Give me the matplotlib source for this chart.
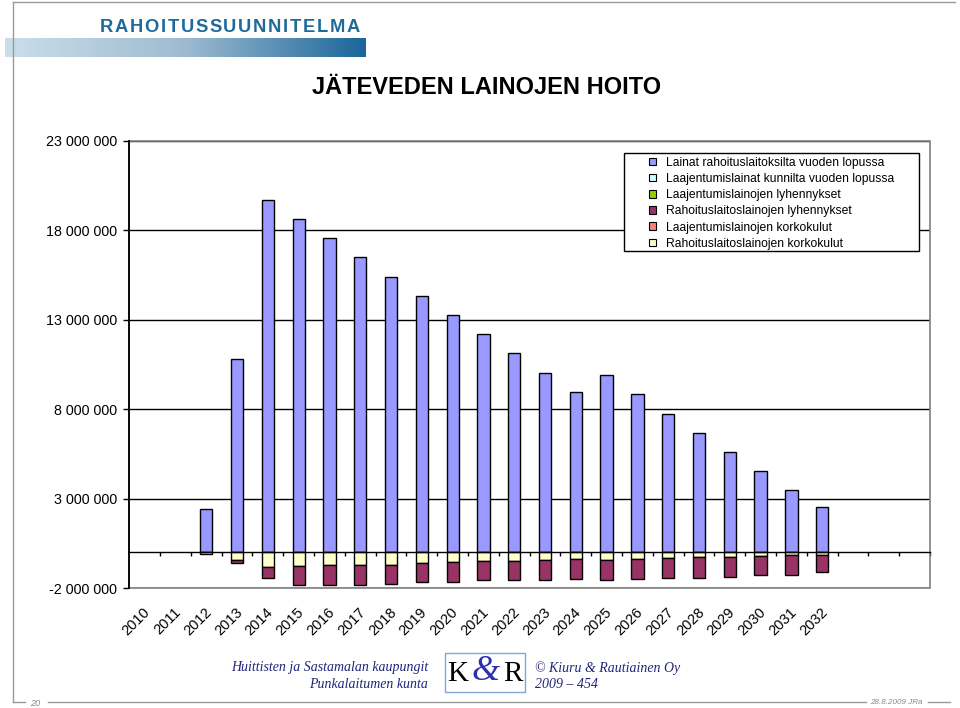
import numpy as np
import matplotlib
matplotlib.use('Agg')
import matplotlib.pyplot as plt
from matplotlib.patches import Rectangle, Patch
from matplotlib.lines import Line2D
from matplotlib.colors import LinearSegmentedColormap
from matplotlib.transforms import blended_transform_factory

plt.rcParams['font.family'] = ['Liberation Sans', 'DejaVu Sans']

# vuodet ja sarjat (miljoonaa euroa), luettu kuvasta
vuodet = [str(v) for v in range(2010, 2033)]

lainat_rahoitus = [0, 0, 2.41, 10.80, 19.69, 18.63, 17.57, 16.51, 15.38, 14.32, 13.26,
                   12.20, 11.13, 10.02, 8.95, 9.90, 8.84, 7.71, 6.65, 5.58, 4.52, 3.46, 2.51]
lainat_kunnilta = [0] * 23
lyh_laajentumis = [0] * 23
lyh_rahoitus = [0, 0, 0, 0.13, 0.58, 1.08, 1.09, 1.12, 1.06, 1.08, 1.08,
                1.08, 1.08, 1.08, 1.08, 1.08, 1.08, 1.08, 1.14, 1.08, 1.08, 1.11, 0.96]
korko_laajentumis = [0] * 23
korko_rahoitus = [0, 0, 0.10, 0.45, 0.84, 0.78, 0.73, 0.69, 0.69, 0.61, 0.56,
                  0.50, 0.48, 0.45, 0.39, 0.45, 0.39, 0.34, 0.28, 0.28, 0.22, 0.15, 0.13]

nimet = ['Lainat rahoituslaitoksilta vuoden lopussa',
         'Laajentumislainat kunnilta vuoden lopussa',
         'Laajentumislainojen lyhennykset',
         'Rahoituslaitoslainojen lyhennykset',
         'Laajentumislainojen korkokulut',
         'Rahoituslaitoslainojen korkokulut']
varit = ['#9999FF', '#CCFFFF', '#99CC00', '#993366', '#FF8080', '#FFFFCC']

W, H = 960, 708
fig = plt.figure(figsize=(9.6, 7.08), dpi=100)

def fx(px):
    return px / W

def fy(py):
    return 1 - py / H

# --- dian kehykset ---
grey = '#9a9a9a'
fig.add_artist(Line2D([fx(13), fx(13)], [fy(2), fy(702)], color=grey, lw=1))
fig.add_artist(Line2D([fx(13), fx(955)], [fy(2), fy(2)], color=grey, lw=1))
fig.add_artist(Line2D([fx(13), fx(25)], [fy(702), fy(702)], color=grey, lw=1))
fig.add_artist(Line2D([fx(48), fx(866)], [fy(702), fy(702)], color=grey, lw=1))
fig.add_artist(Line2D([fx(928), fx(950)], [fy(702), fy(702)], color=grey, lw=1))
fig.text(fx(35), fy(703), '20', fontsize=6.5, style='italic', color='#888888',
         ha='center', va='center')
fig.text(fx(923), fy(703), '28.8.2009 JRa', fontsize=5.8, style='italic',
         color='#888888', ha='right', va='center')

# --- otsikkopalkki ---
ax_grad = fig.add_axes([fx(5), fy(57), fx(361), 19 / H])
cmap = LinearSegmentedColormap.from_list('otsikko', ['#CBDEEA', '#9DBBD0', '#1B669A'])
ax_grad.imshow(np.linspace(0, 1, 256).reshape(1, -1), cmap=cmap, aspect='auto')
ax_grad.axis('off')

renderer = fig.canvas.get_renderer()
x = 100
for ch in 'RAHOITUSSUUNNITELMA':
    t = fig.text(fx(x), fy(32), ch, fontsize=13.2, fontweight='bold', color='#1E6A9B',
                 ha='left', va='baseline')
    x += t.get_window_extent(renderer).width + 1.65

fig.text(fx(487), fy(88), 'JÄTEVEDEN LAINOJEN HOITO', fontsize=17,
         fontweight='bold', ha='center', va='center')

# --- kaavio ---
ax = fig.add_axes([fx(129.3), fy(588), fx(930) - fx(129.3), (588 - 140.7) / H])
pos = np.arange(len(vuodet))
lev = 0.4

def viivat(arvot):
    # nollapalkeille ei reunaviivaa
    return [1 if v else 0 for v in arvot]

rah = np.array(lainat_rahoitus) * 1e6
kun = np.array(lainat_kunnilta) * 1e6
ax.bar(pos, rah, width=lev, color=varit[0], edgecolor='black',
       linewidth=viivat(lainat_rahoitus), zorder=3)
ax.bar(pos, kun, bottom=rah, width=lev, color=varit[1], edgecolor='black',
       linewidth=viivat(lainat_kunnilta), zorder=3)

# negatiiviset sarjat pinotaan nollasta alaspain
ala = np.zeros(len(vuodet))
for arvot, vari in [(korko_rahoitus, varit[5]), (korko_laajentumis, varit[4]),
                    (lyh_rahoitus, varit[3]), (lyh_laajentumis, varit[2])]:
    h = -np.array(arvot) * 1e6
    ax.bar(pos, h, bottom=ala, width=lev, color=vari, edgecolor='black',
           linewidth=viivat(arvot), zorder=3)
    ala = ala + h

ax.set_xlim(-0.5, 25.5)
ax.set_ylim(-2e6, 23e6)
yt = np.arange(-2e6, 23.1e6, 5e6)
ax.set_yticks(yt)
ax.set_yticklabels(['{:,}'.format(int(v)).replace(',', ' ') for v in yt], fontsize=10.3)
ax.tick_params(axis='y', direction='out', length=4, width=1, colors='black', pad=5)

ax.set_axisbelow(True)
ax.yaxis.grid(True, color='black', linewidth=1)
ax.add_patch(Rectangle((0, 0), 1, 1, transform=ax.transAxes, fill=False,
                       edgecolor='#808080', linewidth=1.2, zorder=1.5, clip_on=False))
for s in ['top', 'right']:
    ax.spines[s].set_visible(False)
ax.spines['left'].set_linewidth(1.3)
ax.spines['left'].set_zorder(4)
ax.spines['bottom'].set_position(('data', 0))
ax.spines['bottom'].set_linewidth(1)
ax.spines['bottom'].set_zorder(4)

ax.set_xticks(np.arange(0.5, 26, 1))
ax.set_xticklabels([])
ax.tick_params(axis='x', direction='out', length=3, width=1, colors='black')

tr = blended_transform_factory(ax.transData, ax.transAxes)
for i, v in enumerate(vuodet):
    ax.text(i + 0.1, -0.05, v, transform=tr, rotation=45, fontsize=10.5,
            ha='right', va='center', rotation_mode='anchor')

# --- selite (valkoinen laatikko peittaa ruudukon) ---
fig.add_artist(Rectangle((fx(624), fy(251)), fx(919) - fx(624), (251 - 153) / H,
                         transform=fig.transFigure, facecolor='white',
                         edgecolor='black', lw=1, zorder=2))
kahvat = [Patch(facecolor=c, edgecolor='black', linewidth=0.8) for c in varit]
fig.legend(kahvat, nimet, loc='upper left', bbox_to_anchor=(fx(645), fy(153)),
           frameon=False, fontsize=8.7, handlelength=0.6, handleheight=0.6,
           handletextpad=0.85, labelspacing=0.35, borderaxespad=0, borderpad=0.3)

# --- alatunniste ---
navy = '#22247A'
fig.text(fx(428), fy(668), 'Huittisten ja Sastamalan kaupungit', family='Liberation Serif',
         style='italic', fontsize=10, color=navy, ha='right', va='center')
fig.text(fx(428), fy(685), 'Punkalaitumen kunta', family='Liberation Serif',
         style='italic', fontsize=10, color=navy, ha='right', va='center')
fig.text(fx(535), fy(668), '© Kiuru & Rautiainen Oy', family='Liberation Serif',
         style='italic', fontsize=10, color=navy, ha='left', va='center')
fig.text(fx(535), fy(685), '2009 – 454', family='Liberation Serif',
         style='italic', fontsize=10, color=navy, ha='left', va='center')

fig.add_artist(Rectangle((fx(445), fy(692)), fx(525) - fx(445), 39 / H,
                         transform=fig.transFigure, fill=False, edgecolor='#7FA6D6', lw=1))
fig.text(fx(458), fy(674), 'K', family='Liberation Serif', fontsize=21, ha='center', va='center')
fig.text(fx(513), fy(674), 'R', family='Liberation Serif', fontsize=21, ha='center', va='center')
fig.text(fx(486), fy(672), '&', family='Liberation Serif', style='italic', fontsize=26,
         color='#2A30B0', ha='center', va='center')

fig.savefig('out.png', dpi=100, facecolor='white')
